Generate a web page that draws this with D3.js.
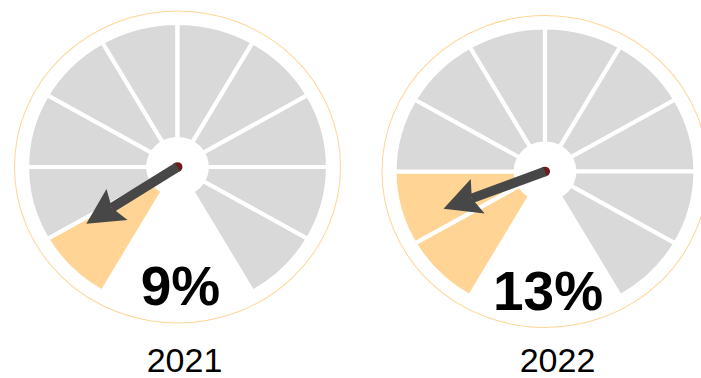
<!DOCTYPE html>
<html>
<head>
<meta charset="utf-8">
<script src="https://cdn.jsdelivr.net/npm/d3@7"></script>
<style>
  html, body { margin: 0; padding: 0; background: #fff; }
  svg { display: block; }
</style>
</head>
<body>
<svg id="chart" width="701" height="378"></svg>
<script>
// ---- data ----
const years = ["2021", "2022"];
const values = [9, 13];               // percent
const segmentBounds = [0, 10, 20, 30, 40, 50, 60, 70, 80, 90, 100];

// ---- layout ----
const svg = d3.select("#chart");
const sx = 1.045;                     // slight horizontal stretch seen in reference
const rOuter = 144, rInner = 28, rRing = 156;
const needleLen = 104;

const gaugeX = d3.scalePoint().domain(years).range([177.5, 545]);
const gaugeY = d3.scalePoint().domain(years).range([167, 171.5]);
const labelX = d3.scalePoint().domain(years).range([184.5, 557.5]);

const angle = d3.scaleLinear().domain([0, 100]).range([-150 * Math.PI / 180, 150 * Math.PI / 180]);
const arc = d3.arc().innerRadius(rInner).outerRadius(rOuter);

const segs = d3.range(segmentBounds.length - 1).map(i => ({ lo: segmentBounds[i], hi: segmentBounds[i + 1] }));

years.forEach((yr, k) => {
  const v = values[k];
  const gc = svg.append("g")
    .attr("transform", `translate(${gaugeX(yr)},${gaugeY(yr)})`);
  const g = gc.append("g").attr("transform", `scale(${sx},1)`);

  g.append("circle")
    .attr("r", rRing)
    .attr("fill", "none")
    .attr("stroke", "#ffd699")
    .attr("stroke-width", 1);

  g.selectAll("path.seg").data(segs).join("path")
    .attr("class", "seg")
    .attr("d", d => arc({ startAngle: angle(d.lo), endAngle: angle(d.hi) }))
    .attr("fill", d => d.lo < v ? "#ffd494" : "#d9d9d9")
    .attr("stroke", "#fff")
    .attr("stroke-width", 4)
    .attr("stroke-linejoin", "miter");

  // needle
  const a = angle(v);
  const ux = Math.sin(a), uy = -Math.cos(a);
  const px = -uy, py = ux;
  const headLen = 35, headHalf = 18.5, notch = 6;
  const tip = [ux * needleLen, uy * needleLen];
  const base = [ux * (needleLen - headLen), uy * (needleLen - headLen)];
  const back = [ux * (needleLen - headLen + notch), uy * (needleLen - headLen + notch)];

  g.append("circle").attr("r", 4.8).attr("fill", "#6b1c1c");
  g.append("line")
    .attr("x1", 0).attr("y1", 0)
    .attr("x2", back[0]).attr("y2", back[1])
    .attr("stroke", "#474747")
    .attr("stroke-width", 9.5);
  g.append("path")
    .attr("d", `M${tip[0]},${tip[1]}L${base[0] + px * headHalf},${base[1] + py * headHalf}L${back[0]},${back[1]}L${base[0] - px * headHalf},${base[1] - py * headHalf}Z`)
    .attr("fill", "#474747");

  gc.append("text")
    .attr("x", 3)
    .attr("y", 138)
    .attr("text-anchor", "middle")
    .attr("font-family", "Liberation Sans, Arial, sans-serif")
    .attr("font-weight", "bold")
    .attr("font-size", 55)
    .attr("fill", "#000")
    .text(v + "%");

  svg.append("text")
    .attr("x", labelX(yr))
    .attr("y", 372)
    .attr("text-anchor", "middle")
    .attr("font-family", "Liberation Sans, Arial, sans-serif")
    .attr("font-size", 34)
    .attr("fill", "#000")
    .text(yr);
});
</script>
</body>
</html>
